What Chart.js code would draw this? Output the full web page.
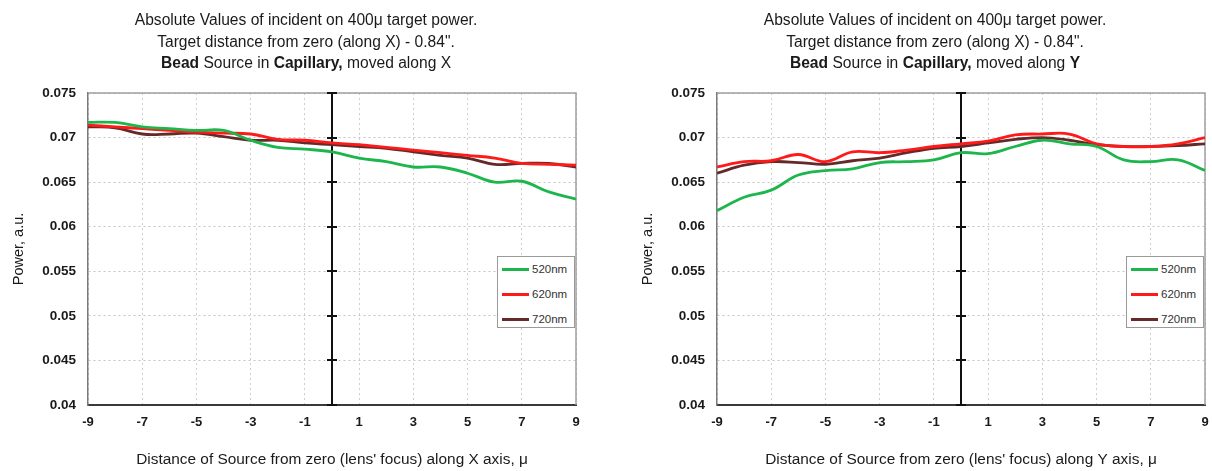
<!DOCTYPE html>
<html>
<head>
<meta charset="utf-8">
<title>Bead source power scans</title>
<script src="https://cdn.jsdelivr.net/npm/chart.js@4/dist/chart.umd.min.js"></script>
<style>
  html, body { margin: 0; padding: 0; background: #fff; overflow: hidden; }
  body { width: 1212px; height: 471px; position: relative; font-family: 'Liberation Sans', Arial, sans-serif; }
  .panel { position: absolute; top: 0; width: 612px; height: 471px; }
  .panel canvas { position: absolute; left: 0; top: 0; }
  .title {
    position: absolute; left: 0; top: 9px; width: 612px;
    text-align: center; font-size: 15.6px; line-height: 21.5px; color: #1a1a1a;
  }
  .legend {
    position: absolute; left: 497px; top: 256px; width: 76px; height: 70px;
    border: 1px solid #9a9a9a; background: #fff; box-sizing: content-box;
  }
  .legend .item { position: absolute; left: 4px; height: 14px; font-size: 11.5px; line-height: 14px; color: #333; }
  .legend .swatch { position: absolute; left: 0; top: 6px; width: 27px; height: 3px; }
  .legend .label { position: absolute; left: 30px; top: 0; white-space: nowrap; }
</style>
</head>
<body>

<div class="panel" style="left:0">
  <canvas id="chartX" width="612" height="471"></canvas>
  <div class="title">Absolute Values of incident on 400μ target power.<br>Target distance from zero (along X) - 0.84".<br><b>Bead</b> Source in <b>Capillary,</b> moved along X</div>
  <div class="legend" id="legendX"></div>
</div>

<div class="panel" style="left:629px">
  <canvas id="chartY" width="612" height="471"></canvas>
  <div class="title">Absolute Values of incident on 400μ target power.<br>Target distance from zero (along X) - 0.84".<br><b>Bead</b> Source in <b>Capillary,</b> moved along <b>Y</b></div>
  <div class="legend" id="legendY"></div>
</div>

<script>
// source offsets from the lens focus, μ
const offsets = [-9, -8, -7, -6, -5, -4, -3, -2, -1, 0, 1, 2, 3, 4, 5, 6, 7, 8, 9];

const seriesLabels = ['520nm', '620nm', '720nm'];
const seriesColors = ['#1db64c', '#ff1a1a', '#642a2a'];

// scan along X
const powerX520 = [0.0717, 0.0717, 0.0712, 0.0710, 0.0708, 0.0708, 0.0697, 0.0689, 0.0687, 0.0684,
                   0.0677, 0.0673, 0.0667, 0.0667, 0.0660, 0.0650, 0.0651, 0.0639, 0.0631];
const powerX620 = [0.0714, 0.0712, 0.0710, 0.0708, 0.0706, 0.0705, 0.0704, 0.0698, 0.0697, 0.0694,
                   0.0692, 0.0689, 0.0686, 0.0683, 0.0680, 0.0677, 0.0671, 0.0670, 0.0669];
const powerX720 = [0.0712, 0.0711, 0.0704, 0.0704, 0.0705, 0.0701, 0.0697, 0.0697, 0.0694, 0.0692,
                   0.0690, 0.0688, 0.0684, 0.0680, 0.0677, 0.0670, 0.0671, 0.0671, 0.0667];

// scan along Y
const powerY520 = [0.0618, 0.0633, 0.0641, 0.0658, 0.0663, 0.0665, 0.0672, 0.0673, 0.0675, 0.0683,
                   0.0682, 0.0690, 0.0697, 0.0693, 0.0690, 0.0675, 0.0673, 0.0675, 0.0663];
const powerY620 = [0.0667, 0.0673, 0.0674, 0.0681, 0.0673, 0.0684, 0.0683, 0.0686, 0.0690, 0.0693,
                   0.0696, 0.0703, 0.0704, 0.0704, 0.0693, 0.0690, 0.0690, 0.0693, 0.0700];
const powerY720 = [0.0660, 0.0669, 0.0673, 0.0672, 0.0670, 0.0674, 0.0677, 0.0683, 0.0688, 0.0690,
                   0.0694, 0.0698, 0.0700, 0.0697, 0.0692, 0.0690, 0.0690, 0.0691, 0.0693];

const FONT = "'Liberation Sans', Arial, sans-serif";

// gray frame on top/right plus the black zero axis with its tick marks
const frameAndZeroAxis = {
  id: 'frameAndZeroAxis',
  beforeDatasetsDraw(chart) {
    const { ctx, chartArea: a, scales } = chart;
    ctx.save();
    ctx.strokeStyle = '#a0a0a0';
    ctx.lineWidth = 1.5;
    ctx.beginPath();
    ctx.moveTo(a.left, a.top);
    ctx.lineTo(a.right, a.top);
    ctx.lineTo(a.right, a.bottom);
    ctx.stroke();

    const x0 = Math.round(scales.x.getPixelForValue(0));
    ctx.strokeStyle = '#111';
    ctx.lineWidth = 2;
    ctx.beginPath();
    ctx.moveTo(x0, a.top);
    ctx.lineTo(x0, a.bottom);
    scales.y.ticks.forEach(t => {
      const py = Math.round(scales.y.getPixelForValue(t.value));
      ctx.moveTo(x0 - 5, py);
      ctx.lineTo(x0 + 5, py);
    });
    ctx.stroke();
    ctx.restore();
  }
};

function buildLegend(el) {
  seriesLabels.forEach((label, i) => {
    const item = document.createElement('div');
    item.className = 'item';
    item.style.top = (5 + i * 25) + 'px';
    item.innerHTML = '<span class="swatch" style="background:' + seriesColors[i] + '"></span>' +
                     '<span class="label">' + label + '</span>';
    el.appendChild(item);
  });
}

function makeChart(canvasId, legendId, series, axisTitle) {
  const datasets = series.map((values, i) => ({
    label: seriesLabels[i],
    data: offsets.map((x, k) => ({ x: x, y: values[k] })),
    borderColor: seriesColors[i],
    backgroundColor: seriesColors[i],
    borderWidth: 2.8,
    pointRadius: 0,
    tension: 0.4,
    fill: false
  }));

  new Chart(document.getElementById(canvasId), {
    type: 'line',
    data: { datasets: datasets },
    plugins: [frameAndZeroAxis],
    options: {
      responsive: false,
      animation: false,
      layout: { padding: { left: 0, top: 93, right: 36, bottom: 0 } },
      plugins: {
        legend: { display: false },
        tooltip: { enabled: false },
        title: { display: false }
      },
      scales: {
        x: {
          type: 'linear',
          min: -9,
          max: 9,
          afterFit(scale) { scale.height = 66; },
          ticks: {
            stepSize: 2,
            padding: 10,
            color: '#1a1a1a',
            font: { family: FONT, size: 13, weight: 'bold' }
          },
          grid: { color: '#cfcfcf', lineWidth: 1, drawTicks: false },
          border: { display: true, color: '#3a3a3a', width: 2, dash: [2, 3] },
          title: {
            display: true,
            text: 'Distance of Source from zero (lens\' focus) along ' + axisTitle + ' axis, μ',
            color: '#1a1a1a',
            font: { family: FONT, size: 15.4 },
            padding: { top: 0, bottom: 2 }
          }
        },
        y: {
          min: 0.04,
          max: 0.075,
          afterFit(scale) { scale.width = 88; },
          ticks: {
            stepSize: 0.005,
            padding: 12,
            color: '#1a1a1a',
            font: { family: FONT, size: 13.5, weight: 'bold' },
            callback: v => String(+v.toFixed(3))
          },
          grid: { color: '#c4c4c4', lineWidth: 1, drawTicks: false },
          border: { display: true, color: '#7a7a7a', width: 1.5, dash: [2, 3] },
          title: {
            display: true,
            text: 'Power, a.u.',
            color: '#1a1a1a',
            font: { family: FONT, size: 14.5 },
            padding: { top: 10, bottom: 0 }
          }
        }
      }
    }
  });

  buildLegend(document.getElementById(legendId));
}

makeChart('chartX', 'legendX', [powerX520, powerX620, powerX720], 'X');
makeChart('chartY', 'legendY', [powerY520, powerY620, powerY720], 'Y');
</script>
</body>
</html>
